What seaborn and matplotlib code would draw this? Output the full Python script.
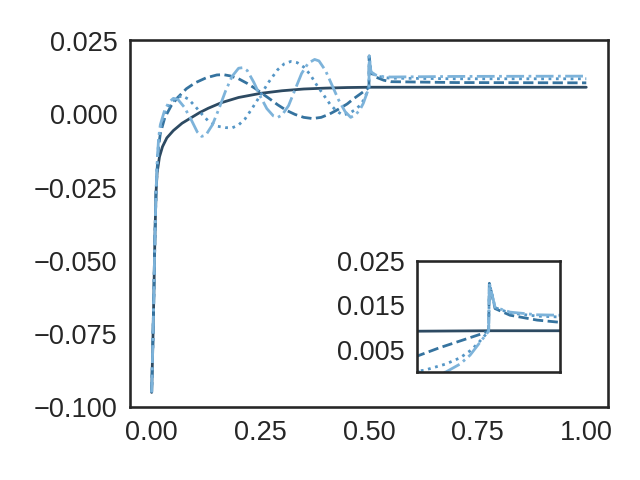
import numpy as np
import pandas as pd
import matplotlib
matplotlib.use('Agg')
import matplotlib.pyplot as plt
import seaborn as sns

sns.set_theme(context='talk', style='white')
plt.rcParams['font.family'] = ['Liberation Sans', 'DejaVu Sans']
plt.rcParams['xtick.labelsize'] = 19.5
plt.rcParams['ytick.labelsize'] = 19.5
plt.rcParams['xtick.major.size'] = 0
plt.rcParams['ytick.major.size'] = 0
plt.rcParams['xtick.major.pad'] = 9
plt.rcParams['ytick.major.pad'] = 9

# solid curve
x_solid = [0.000, 0.0025, 0.005, 0.0075, 0.010, 0.0125, 0.018, 0.025, 0.035, 0.050,
           0.070, 0.090, 0.110, 0.130, 0.160, 0.200, 0.250, 0.300, 0.350, 0.400,
           0.450, 0.500, 0.700, 1.000]
y_solid = [-0.095, -0.080, -0.062, -0.042, -0.027, -0.020, -0.0145, -0.0110, -0.0080, -0.0055,
           -0.0030, -0.0012, 0.0006, 0.0021, 0.0040, 0.0058, 0.0072, 0.0081, 0.0087, 0.0090,
           0.0092, 0.0093, 0.0093, 0.0093]

# dashed curve
x_dash = [0.000, 0.0025, 0.005, 0.0075, 0.010, 0.0125, 0.016, 0.020, 0.030, 0.045,
          0.060, 0.080, 0.100, 0.125, 0.150, 0.165, 0.180, 0.200, 0.220, 0.240,
          0.250, 0.270, 0.290, 0.310, 0.330, 0.350, 0.370, 0.390, 0.410, 0.430,
          0.450, 0.465, 0.480, 0.495, 0.500, 0.5005, 0.5045, 0.515, 0.534, 0.550,
          0.700, 1.000]
y_dash = [-0.095, -0.080, -0.062, -0.042, -0.027, -0.019, -0.011, -0.0065, -0.0012, 0.0030,
          0.0058, 0.0088, 0.0108, 0.0125, 0.0135, 0.0136, 0.0132, 0.0122, 0.0106, 0.0087,
          0.0076, 0.0055, 0.0033, 0.0014, 0.0000, -0.0010, -0.0014, -0.0010, 0.0002, 0.0018,
          0.0036, 0.0054, 0.0070, 0.0086, 0.0093, 0.0200, 0.0143, 0.0128, 0.0117, 0.0112,
          0.0109, 0.0108]

# dotted curve
x_dot = [0.000, 0.0025, 0.005, 0.0075, 0.010, 0.0125, 0.016, 0.020, 0.030, 0.040,
         0.055, 0.070, 0.085, 0.100, 0.115, 0.130, 0.150, 0.170, 0.185, 0.200,
         0.215, 0.230, 0.250, 0.270, 0.290, 0.305, 0.320, 0.335, 0.350, 0.365,
         0.380, 0.395, 0.410, 0.425, 0.440, 0.455, 0.470, 0.480, 0.488, 0.494,
         0.500, 0.5005, 0.5045, 0.515, 0.534, 0.550, 0.700, 1.000]
y_dot = [-0.095, -0.080, -0.062, -0.042, -0.027, -0.018, -0.009, -0.0050, 0.0002, 0.0030,
         0.0055, 0.0064, 0.0052, 0.0028, 0.0002, -0.0022, -0.0040, -0.0045, -0.0046, -0.0036,
         -0.0015, 0.0018, 0.0065, 0.0112, 0.0153, 0.0173, 0.0181, 0.0177, 0.0162, 0.0136,
         0.0100, 0.0068, 0.0036, 0.0012, -0.0002, 0.0004, 0.0018, 0.0032, 0.0050, 0.0070,
         0.0092, 0.0200, 0.0145, 0.0133, 0.0126, 0.0124, 0.0122, 0.0122]

# dash-dot curve
x_dd = [0.000, 0.0025, 0.005, 0.0075, 0.010, 0.0125, 0.016, 0.020, 0.030, 0.040,
        0.050, 0.060, 0.075, 0.090, 0.105, 0.115, 0.125, 0.140, 0.155, 0.170,
        0.185, 0.200, 0.210, 0.220, 0.235, 0.250, 0.265, 0.280, 0.290, 0.300,
        0.315, 0.330, 0.345, 0.360, 0.375, 0.385, 0.400, 0.415, 0.430, 0.445,
        0.458, 0.470, 0.480, 0.487, 0.493, 0.500, 0.5005, 0.5045, 0.515, 0.534,
        0.550, 0.700, 1.000]
y_dd = [-0.095, -0.080, -0.062, -0.042, -0.027, -0.017, -0.008, -0.0035, 0.0015, 0.0042,
        0.0055, 0.0052, 0.0025, -0.0015, -0.0060, -0.0075, -0.0070, -0.0035, 0.0020, 0.0080,
        0.0130, 0.0158, 0.0160, 0.0150, 0.0110, 0.0062, 0.0020, -0.0005, -0.0010, -0.0002,
        0.0030, 0.0085, 0.0140, 0.0175, 0.0188, 0.0183, 0.0150, 0.0100, 0.0050, 0.0010,
        -0.0010, 0.0000, 0.0018, 0.0038, 0.0063, 0.0092, 0.0200, 0.0146, 0.0135, 0.0129,
        0.0128, 0.0130, 0.0131]

colors = ['#2d4a62', '#35739f', '#5596c6', '#7db3da']
series = [(x_solid, y_solid, '-'), (x_dash, y_dash, '--'),
          (x_dot, y_dot, ':'), (x_dd, y_dd, '-.')]

fig = plt.figure(figsize=(6.4, 4.8), dpi=100)
ax = fig.add_axes([0.203, 0.152, 0.747, 0.765])
axins = fig.add_axes([0.652, 0.225, 0.223, 0.231])

for (xs, ys, ls), c in zip(series, colors):
    sns.lineplot(x=xs, y=ys, color=c, linestyle=ls, linewidth=2, ax=ax, errorbar=None)
    sns.lineplot(x=xs, y=ys, color=c, linestyle=ls, linewidth=2, ax=axins, errorbar=None)

ax.set_xlim(-0.05, 1.05)
ax.set_ylim(-0.1, 0.0255)
ax.set_xticks([0.0, 0.25, 0.5, 0.75, 1.0])
ax.set_yticks([-0.1, -0.075, -0.05, -0.025, 0.0, 0.025])

axins.set_xlim(0.45, 0.55)
axins.set_ylim(0.0, 0.025)
axins.set_xticks([])
axins.set_yticks([0.005, 0.015, 0.025])

fig.savefig('out.png', dpi=100)
